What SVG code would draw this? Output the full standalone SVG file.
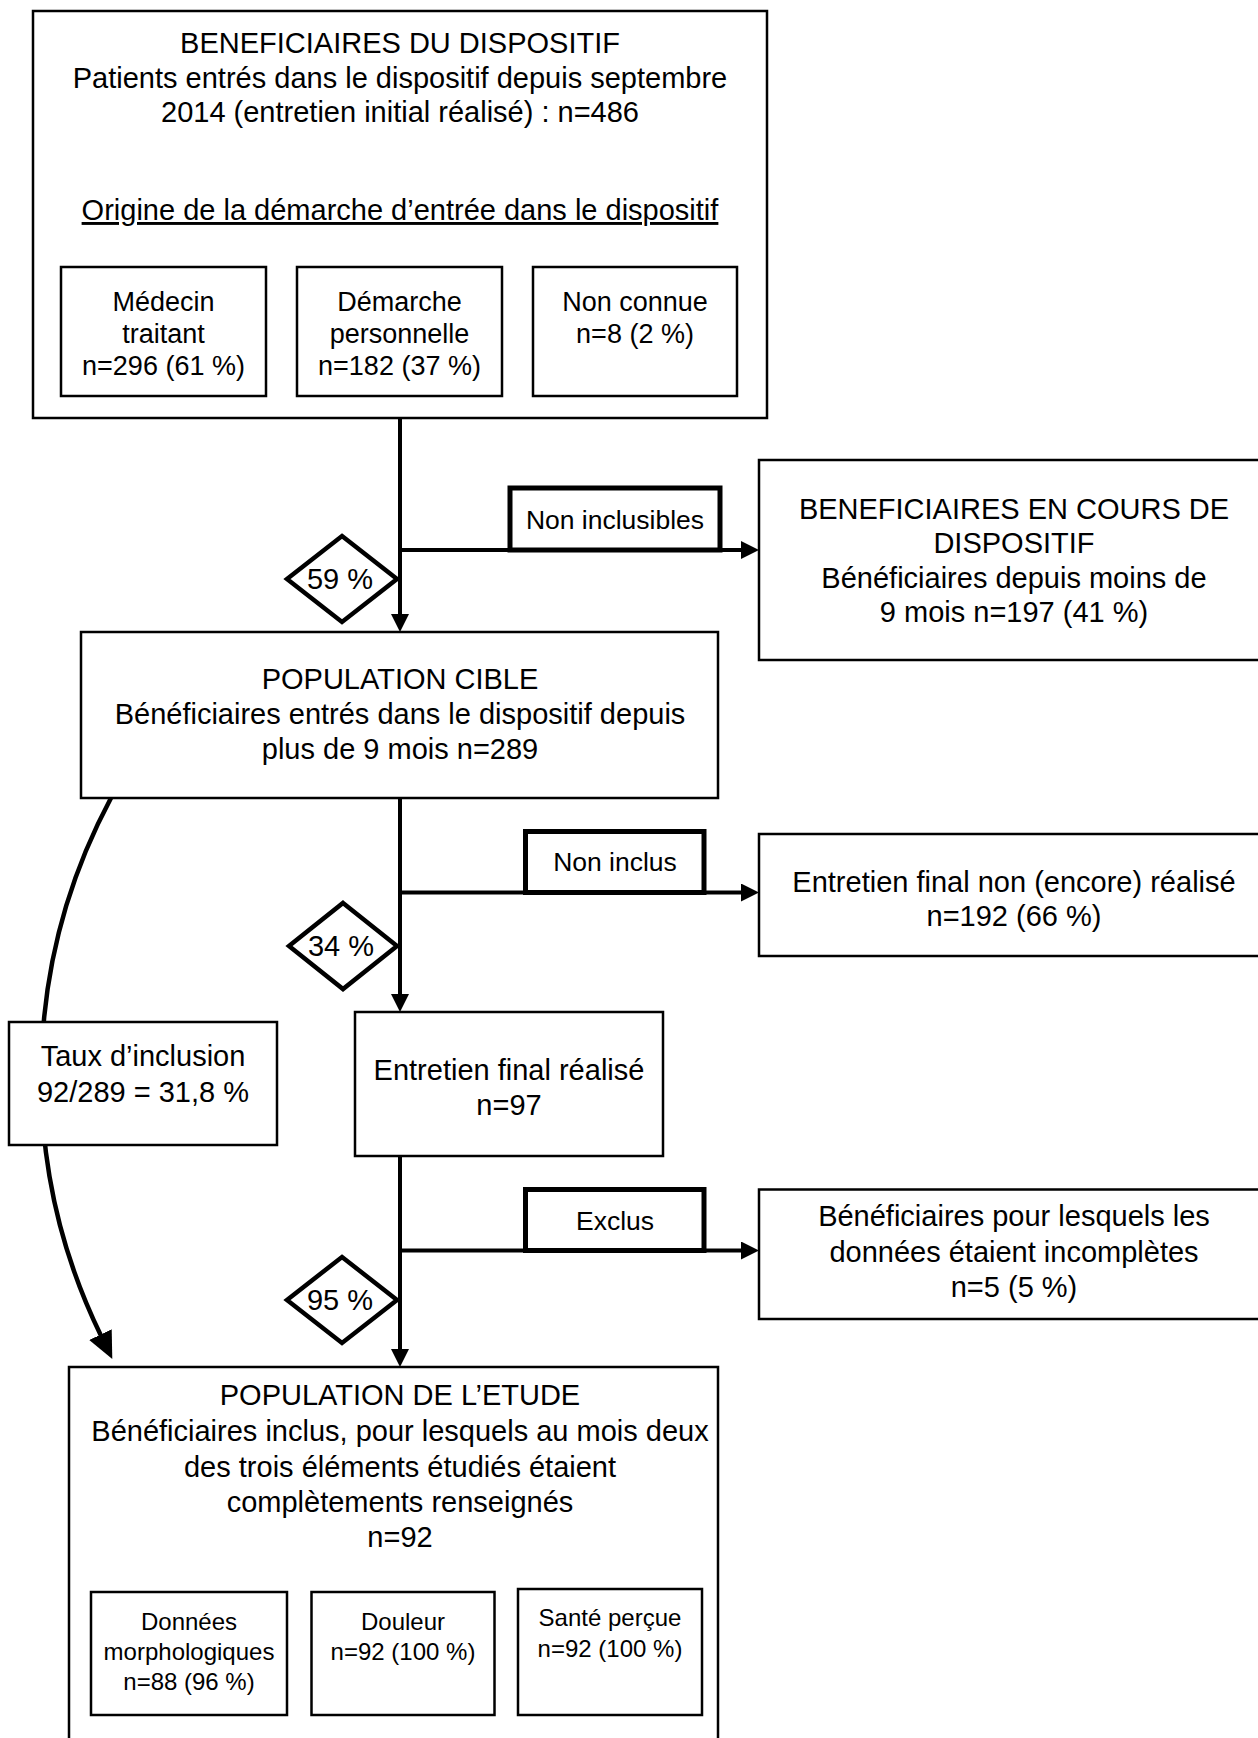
<svg xmlns="http://www.w3.org/2000/svg" width="1258" height="1738" viewBox="0 0 1258 1738">
<style>
  .box{fill:#fff;stroke:#000;stroke-width:2.5}
  .lbl{fill:#fff;stroke:#000;stroke-width:5}
  .dia{fill:#fff;stroke:#000;stroke-width:4.5;stroke-linejoin:miter}
  .conn{fill:none;stroke:#000;stroke-width:4}
  text{font-family:"Liberation Sans",Arial,Helvetica,sans-serif;fill:#000;text-anchor:middle}
  .t29{font-size:29px}
  .t27{font-size:27px}
  .t26{font-size:26.5px}
  .t24{font-size:24px}
</style>
<defs>
  <marker id="arr" markerUnits="userSpaceOnUse" markerWidth="18" markerHeight="18" refX="0" refY="9" orient="auto" viewBox="0 0 18 18">
    <path d="M0,0 L18,9 L0,18 z" fill="#000"/>
  </marker>
  <marker id="bigarr" markerUnits="userSpaceOnUse" markerWidth="27" markerHeight="25" refX="1" refY="12.5" orient="auto" viewBox="0 0 27 25">
    <path d="M0,0 L27,12.5 L0,25 z" fill="#000"/>
  </marker>
</defs>
<rect width="1258" height="1738" fill="#fff"/>

<g id="connectors">
  <path class="conn" d="M400,418 V614" marker-end="url(#arr)"/>
  <path class="conn" d="M400,550 H741" marker-end="url(#arr)"/>
  <path class="conn" d="M400,798 V994" marker-end="url(#arr)"/>
  <path class="conn" d="M400,892.5 H741" marker-end="url(#arr)"/>
  <path class="conn" d="M400,1156 V1349" marker-end="url(#arr)"/>
  <path class="conn" d="M400,1250.5 H741" marker-end="url(#arr)"/>
  <path class="conn" style="stroke-width:4.5" d="M111,798 A591.3 591.3 0 0 0 100.9,1335.5" marker-end="url(#bigarr)"/>
</g>

<g id="beneficiaires">
  <rect class="box" x="33" y="11" width="734" height="407"/>
  <text class="t29" x="400" y="53">BENEFICIAIRES DU DISPOSITIF</text>
  <text class="t29" x="400" y="88">Patients entrés dans le dispositif depuis septembre</text>
  <text class="t29" x="400" y="122">2014 (entretien initial réalisé) : n=486</text>
  <text class="t29" x="400" y="220" text-decoration="underline">Origine de la démarche d’entrée dans le dispositif</text>
</g>
<g id="medecin">
  <rect class="box" x="61" y="267" width="205" height="129"/>
  <text class="t27" x="163.5" y="311">Médecin</text>
  <text class="t27" x="163.5" y="343">traitant</text>
  <text class="t27" x="163.5" y="375">n=296 (61 %)</text>
</g>
<g id="demarche">
  <rect class="box" x="297" y="267" width="205" height="129"/>
  <text class="t27" x="399.5" y="311">Démarche</text>
  <text class="t27" x="399.5" y="343">personnelle</text>
  <text class="t27" x="399.5" y="375">n=182 (37 %)</text>
</g>
<g id="nonconnue">
  <rect class="box" x="533" y="267" width="204" height="129"/>
  <text class="t27" x="635" y="311">Non connue</text>
  <text class="t27" x="635" y="343">n=8 (2 %)</text>
</g>

<g id="label-noninclusibles">
  <rect class="lbl" x="510" y="488" width="210" height="62"/>
  <text class="t26" x="615" y="529">Non inclusibles</text>
</g>
<g id="diamond-59">
  <polygon class="dia" points="342,536 397,579 342,622 287,579"/>
  <text class="t29" x="340" y="589">59 %</text>
</g>
<g id="encours">
  <rect class="box" x="759" y="460" width="520" height="200"/>
  <text class="t29" x="1014" y="519">BENEFICIAIRES EN COURS DE</text>
  <text class="t29" x="1014" y="553">DISPOSITIF</text>
  <text class="t29" x="1014" y="588">Bénéficiaires depuis moins de</text>
  <text class="t29" x="1014" y="622">9 mois n=197 (41 %)</text>
</g>

<g id="cible">
  <rect class="box" x="81" y="632" width="637" height="166"/>
  <text class="t29" x="400" y="689">POPULATION CIBLE</text>
  <text class="t29" x="400" y="724">Bénéficiaires entrés dans le dispositif depuis</text>
  <text class="t29" x="400" y="759">plus de 9 mois n=289</text>
</g>

<g id="label-noninclus">
  <rect class="lbl" x="525.5" y="831.5" width="178.5" height="61"/>
  <text class="t26" x="615" y="870.5">Non inclus</text>
</g>
<g id="diamond-34">
  <polygon class="dia" points="343,903 397,946 343,989 289,946"/>
  <text class="t29" x="341" y="956">34 %</text>
</g>
<g id="nonrealise">
  <rect class="box" x="759" y="834" width="520" height="122"/>
  <text class="t29" x="1014" y="891.5">Entretien final non (encore) réalisé</text>
  <text class="t29" x="1014" y="926">n=192 (66 %)</text>
</g>

<g id="realise">
  <rect class="box" x="355" y="1012" width="308" height="144"/>
  <text class="t29" x="509" y="1080">Entretien final réalisé</text>
  <text class="t29" x="509" y="1114.5">n=97</text>
</g>

<g id="taux">
  <rect class="box" x="9" y="1022" width="268" height="123"/>
  <text class="t29" x="143" y="1066">Taux d’inclusion</text>
  <text class="t29" x="143" y="1102">92/289 = 31,8 %</text>
</g>

<g id="label-exclus">
  <rect class="lbl" x="525.5" y="1189.5" width="178.5" height="61"/>
  <text class="t26" x="615" y="1230">Exclus</text>
</g>
<g id="diamond-95">
  <polygon class="dia" points="342,1257 397,1300 342,1343 287,1300"/>
  <text class="t29" x="340" y="1310">95 %</text>
</g>
<g id="incompletes">
  <rect class="box" x="759" y="1189.5" width="520" height="129.5"/>
  <text class="t29" x="1014" y="1226">Bénéficiaires pour lesquels les</text>
  <text class="t29" x="1014" y="1261.5">données étaient incomplètes</text>
  <text class="t29" x="1014" y="1297">n=5 (5 %)</text>
</g>

<g id="etude">
  <rect class="box" x="69" y="1367" width="649" height="420"/>
  <text class="t29" x="400" y="1405">POPULATION DE L’ETUDE</text>
  <text class="t29" x="400" y="1441">Bénéficiaires inclus, pour lesquels au mois deux</text>
  <text class="t29" x="400" y="1477">des trois éléments étudiés étaient</text>
  <text class="t29" x="400" y="1512">complètements renseignés</text>
  <text class="t29" x="400" y="1547">n=92</text>
</g>
<g id="morpho">
  <rect class="box" x="91" y="1592" width="196" height="123"/>
  <text class="t24" x="189" y="1629.5">Données</text>
  <text class="t24" x="189" y="1659.5">morphologiques</text>
  <text class="t24" x="189" y="1689.5">n=88 (96 %)</text>
</g>
<g id="douleur">
  <rect class="box" x="311.5" y="1592" width="183" height="123"/>
  <text class="t24" x="403" y="1629.5">Douleur</text>
  <text class="t24" x="403" y="1659.5">n=92 (100 %)</text>
</g>
<g id="sante">
  <rect class="box" x="518" y="1589" width="184" height="126"/>
  <text class="t24" x="610" y="1626">Santé perçue</text>
  <text class="t24" x="610" y="1657">n=92 (100 %)</text>
</g>
</svg>
